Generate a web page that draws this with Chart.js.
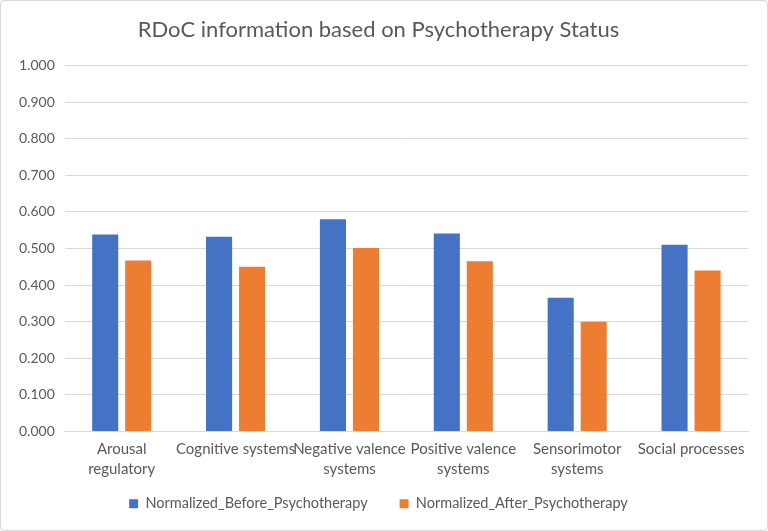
<!DOCTYPE html>
<html>
<head>
<meta charset="utf-8">
<script src="https://cdn.jsdelivr.net/npm/chart.js@4"></script>
<style>
  html, body { margin: 0; padding: 0; background: #fff; }
  #wrap {
    width: 768px; height: 531px; box-sizing: border-box;
    border: 1px solid #d9d9d9; border-radius: 4px; position: relative;
  }
</style>
</head>
<body>
<div id="wrap"><canvas id="myChart"></canvas></div>
<script>
// categories and values
const categories = [
  ["Arousal", "regulatory"],
  "Cognitive systems",
  ["Negative valence", "systems"],
  ["Positive valence", "systems"],
  ["Sensorimotor", "systems"],
  "Social processes"
];
const beforeValues = [0.538, 0.532, 0.580, 0.541, 0.365, 0.510];
const afterValues = [0.467, 0.450, 0.501, 0.465, 0.300, 0.440];
const seriesNames = ["Normalized_Before_Psychotherapy", "Normalized_After_Psychotherapy"];

// legend needs wide gaps between items but a short box, so shrink it and lift it a bit
const legendTweak = {
  id: "legendTweak",
  beforeInit(chart) {
    const lg = chart.legend;
    const origFit = lg.fit;
    const origDraw = lg.draw;
    lg.fit = function () {
      origFit.call(this);
      this.height -= 13;
    };
    lg.draw = function (area) {
      // only move the top, so the clip box still covers the text
      this.top -= 22;
      origDraw.call(this, area);
      this.top += 22;
    };
  },
};

document.addEventListener("DOMContentLoaded", function () {
  const textColor = "#595959";
  const fontFamily = "Lato, 'Open Sans', sans-serif";

  const ctx = document.getElementById("myChart").getContext("2d");
  new Chart(ctx, {
    type: "bar",
    data: {
      labels: categories,
      datasets: [
        {
          label: seriesNames[0],
          data: beforeValues,
          backgroundColor: "#4472C4",
          categoryPercentage: 0.58,
          barPercentage: 0.79,
        },
        {
          label: seriesNames[1],
          data: afterValues,
          backgroundColor: "#ED7D31",
          categoryPercentage: 0.58,
          barPercentage: 0.79,
        },
      ],
    },
    plugins: [legendTweak],
    options: {
      responsive: true,
      maintainAspectRatio: false,
      animation: false,
      layout: { padding: { left: 8, right: 19, top: 6, bottom: 0 } },
      plugins: {
        title: {
          display: true,
          text: "RDoC information based on Psychotherapy Status",
          color: textColor,
          font: { family: fontFamily, size: 22, weight: "normal" },
          padding: { top: 10, bottom: 22 },
        },
        legend: {
          position: "bottom",
          labels: {
            color: textColor,
            font: { family: fontFamily, size: 14.5 },
            usePointStyle: true,
            pointStyle: "rect",
            boxWidth: 9,
            boxHeight: 9,
            padding: 32,
          },
        },
        tooltip: { enabled: false },
      },
      scales: {
        x: {
          grid: { display: false, drawTicks: false },
          border: { color: "#d9d9d9" },
          ticks: {
            color: textColor,
            font: { family: fontFamily, size: 15, lineHeight: 1.3 },
            maxRotation: 0,
            autoSkip: false,
            padding: 8,
          },
        },
        y: {
          min: 0,
          max: 1,
          grid: { color: "#d9d9d9", drawTicks: false },
          border: { display: false },
          ticks: {
            stepSize: 0.1,
            color: textColor,
            font: { family: fontFamily, size: 14 },
            padding: 10,
            callback: (v) => v.toFixed(3),
          },
        },
      },
    },
  });
});
</script>
</body>
</html>
